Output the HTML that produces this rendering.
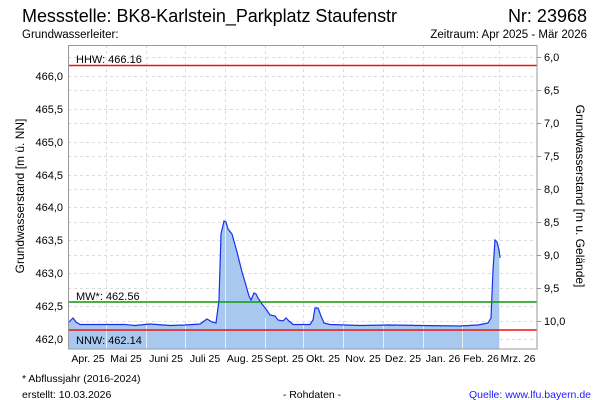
<!DOCTYPE html>
<html><head><meta charset="utf-8"><style>
body{margin:0;background:#fff;}
svg{display:block;font-family:"Liberation Sans",Arial,sans-serif;}
</style></head><body>
<svg width="600" height="400" viewBox="0 0 600 400" xmlns="http://www.w3.org/2000/svg">
<rect width="600" height="400" fill="#fff"/>
<text x="22" y="22" font-size="18" textLength="375" fill="#000">Messstelle: BK8-Karlstein_Parkplatz Staufenstr</text>
<text x="587" y="22" font-size="18" text-anchor="end" fill="#000">Nr: 23968</text>
<text x="22" y="38" font-size="11.5" fill="#000">Grundwasserleiter:</text>
<text x="587" y="38" font-size="11.5" text-anchor="end" fill="#000">Zeitraum: Apr 2025 - Mär 2026</text>
<g stroke="#dcdcdc" stroke-dasharray="3,3" stroke-width="1">
<line x1="68" x2="537" y1="76.5" y2="76.5"/><line x1="68" x2="537" y1="109.5" y2="109.5"/><line x1="68" x2="537" y1="142.5" y2="142.5"/><line x1="68" x2="537" y1="175.5" y2="175.5"/><line x1="68" x2="537" y1="207.5" y2="207.5"/><line x1="68" x2="537" y1="240.5" y2="240.5"/><line x1="68" x2="537" y1="273.5" y2="273.5"/><line x1="68" x2="537" y1="306.5" y2="306.5"/><line x1="68" x2="537" y1="339.5" y2="339.5"/>
<line x1="68" x2="537" y1="57.5" y2="57.5"/><line x1="68" x2="537" y1="90.5" y2="90.5"/><line x1="68" x2="537" y1="123.5" y2="123.5"/><line x1="68" x2="537" y1="156.5" y2="156.5"/><line x1="68" x2="537" y1="189.5" y2="189.5"/><line x1="68" x2="537" y1="222.5" y2="222.5"/><line x1="68" x2="537" y1="255.5" y2="255.5"/><line x1="68" x2="537" y1="288.5" y2="288.5"/><line x1="68" x2="537" y1="321.5" y2="321.5"/>
<line y1="45" y2="349" x1="106.5" x2="106.5"/><line y1="45" y2="349" x1="146.5" x2="146.5"/><line y1="45" y2="349" x1="185.5" x2="185.5"/><line y1="45" y2="349" x1="225.5" x2="225.5"/><line y1="45" y2="349" x1="265.5" x2="265.5"/><line y1="45" y2="349" x1="303.5" x2="303.5"/><line y1="45" y2="349" x1="343.5" x2="343.5"/><line y1="45" y2="349" x1="383.5" x2="383.5"/><line y1="45" y2="349" x1="423.5" x2="423.5"/><line y1="45" y2="349" x1="462.5" x2="462.5"/><line y1="45" y2="349" x1="499.5" x2="499.5"/>
</g>
<path d="M69,349 L69,322 L73,318 L76,322 L80,324.5 L125,324.5 L135,325.5 L150,324 L170,325.5 L185,325 L200,324 L207,319 L212,322 L216,323 L219,300 L221,234 L224,221 L226,222 L228,229 L232,234 L237,252 L242,272 L245,282 L249,296 L251,300 L254,293 L256,294 L258,298 L262,304 L266,309 L270,315 L275,316 L278,320 L283,321 L286,318 L289,321 L293,324.5 L310,324.5 L313,320 L315,308 L318,308 L321,316 L324,323 L330,324.5 L360,325.5 L390,325 L420,325.5 L460,326 L478,325 L488,323 L491,318 L493,270 L495,240 L497,242 L499,250 L500,258 L500,349 Z" fill="#a8c8f0"/>
<g stroke="#e8eef8" stroke-width="1">
<line y1="325" y2="349" x1="106.5" x2="106.5"/><line y1="325" y2="349" x1="146.5" x2="146.5"/><line y1="325" y2="349" x1="185.5" x2="185.5"/><line y1="225" y2="349" x1="225.5" x2="225.5"/><line y1="318" y2="349" x1="265.5" x2="265.5"/><line y1="325" y2="349" x1="303.5" x2="303.5"/><line y1="325" y2="349" x1="343.5" x2="343.5"/><line y1="325" y2="349" x1="383.5" x2="383.5"/><line y1="325" y2="349" x1="423.5" x2="423.5"/><line y1="325" y2="349" x1="462.5" x2="462.5"/><line y1="255" y2="349" x1="499.5" x2="499.5"/>
</g>
<path d="M69,322 L73,318 L76,322 L80,324.5 L125,324.5 L135,325.5 L150,324 L170,325.5 L185,325 L200,324 L207,319 L212,322 L216,323 L219,300 L221,234 L224,221 L226,222 L228,229 L232,234 L237,252 L242,272 L245,282 L249,296 L251,300 L254,293 L256,294 L258,298 L262,304 L266,309 L270,315 L275,316 L278,320 L283,321 L286,318 L289,321 L293,324.5 L310,324.5 L313,320 L315,308 L318,308 L321,316 L324,323 L330,324.5 L360,325.5 L390,325 L420,325.5 L460,326 L478,325 L488,323 L491,318 L493,270 L495,240 L497,242 L499,250 L500,258" fill="none" stroke="#1a2ef0" stroke-width="1.2"/>
<line x1="68" x2="537" y1="65.5" y2="65.5" stroke="#f01010" stroke-width="1.6"/>
<line x1="68" x2="537" y1="302" y2="302" stroke="#0a9a0a" stroke-width="1.6"/>
<line x1="68" x2="537" y1="330" y2="330" stroke="#f01010" stroke-width="1.6"/>
<g font-size="11" fill="#000">
<text x="76" y="63">HHW: 466.16</text>
<text x="76" y="300">MW*: 462.56</text>
<text x="76" y="344">NNW: 462.14</text>
</g>
<rect x="68.5" y="45.5" width="468.5" height="303.5" fill="none" stroke="#999" stroke-width="1"/>
<g font-size="11" fill="#000" text-anchor="end">
<text x="63" y="80">466,0</text><text x="63" y="113">465,5</text><text x="63" y="146">465,0</text><text x="63" y="179">464,5</text><text x="63" y="211">464,0</text><text x="63" y="244">463,5</text><text x="63" y="277">463,0</text><text x="63" y="310">462,5</text><text x="63" y="343">462,0</text>
</g>
<g font-size="11" fill="#000">
<text x="544" y="61">6,0</text><text x="544" y="94">6,5</text><text x="544" y="127">7,0</text><text x="544" y="160">7,5</text><text x="544" y="193">8,0</text><text x="544" y="226">8,5</text><text x="544" y="259">9,0</text><text x="544" y="292">9,5</text><text x="544" y="325">10,0</text>
</g>
<g stroke="#999"><line x1="537" x2="541" y1="57.5" y2="57.5"/><line x1="537" x2="541" y1="90.5" y2="90.5"/><line x1="537" x2="541" y1="123.5" y2="123.5"/><line x1="537" x2="541" y1="156.5" y2="156.5"/><line x1="537" x2="541" y1="189.5" y2="189.5"/><line x1="537" x2="541" y1="222.5" y2="222.5"/><line x1="537" x2="541" y1="255.5" y2="255.5"/><line x1="537" x2="541" y1="288.5" y2="288.5"/><line x1="537" x2="541" y1="321.5" y2="321.5"/></g>
<text transform="translate(24,196) rotate(-90)" font-size="12" text-anchor="middle">Grundwasserstand [m ü. NN]</text>
<text transform="translate(576,196) rotate(90)" font-size="12" text-anchor="middle">Grundwasserstand [m u. Gelände]</text>
<g font-size="10.5" fill="#000" text-anchor="middle">
<text x="88" y="362">Apr. 25</text><text x="126" y="362">Mai 25</text><text x="166" y="362">Juni 25</text><text x="205" y="362">Juli 25</text><text x="245" y="362">Aug. 25</text><text x="284" y="362">Sept. 25</text><text x="323" y="362">Okt. 25</text><text x="363" y="362">Nov. 25</text><text x="403" y="362">Dez. 25</text><text x="443" y="362">Jan. 26</text><text x="481" y="362">Feb. 26</text><text x="518" y="362">Mrz. 26</text>
</g>
<text x="22" y="382" font-size="10.5">* Abflussjahr (2016-2024)</text>
<text x="22" y="398" font-size="10.5">erstellt:  10.03.2026</text>
<text x="312" y="398" font-size="10.5" text-anchor="middle">- Rohdaten -</text>
<text x="591" y="398" font-size="10.5" text-anchor="end" fill="#1a1aff">Quelle: www.lfu.bayern.de</text>
</svg>
</body></html>
